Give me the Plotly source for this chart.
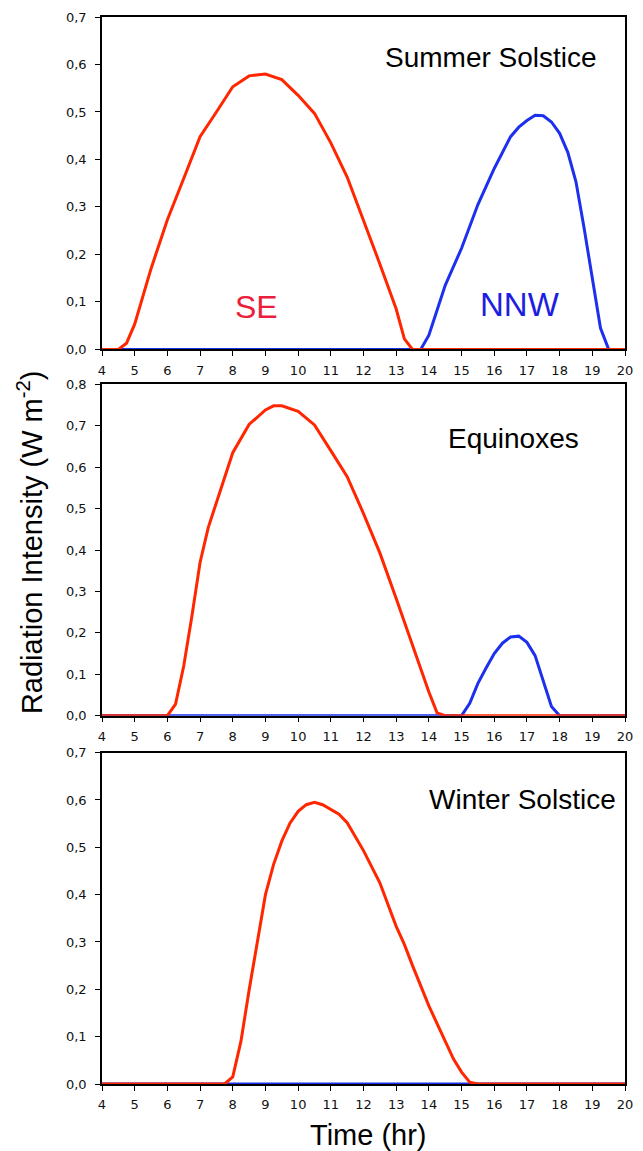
import plotly.graph_objects as go

# ---------------- data ----------------
x_ticks = list(range(4, 21))

# Summer solstice
t_sum_se = [4, 4.5, 4.75, 5, 5.5, 6, 6.5, 7, 7.5, 8, 8.5, 9, 9.5, 10, 10.5, 11, 11.5, 12, 12.5, 13, 13.25, 13.5, 20]
se_sum = [0, 0, 0.013, 0.053, 0.17, 0.273, 0.36, 0.448, 0.50, 0.553, 0.576, 0.58, 0.568, 0.535, 0.497, 0.435,
          0.363, 0.272, 0.18, 0.085, 0.022, 0, 0]
t_sum_nnw = [4, 13.75, 14, 14.5, 15, 15.5, 16, 16.5, 16.75, 17, 17.25, 17.5, 17.75, 18, 18.25, 18.5, 18.75, 19,
             19.25, 19.5, 20]
nnw_sum = [0, 0, 0.03, 0.135, 0.213, 0.305, 0.381, 0.448, 0.468, 0.482, 0.493, 0.492, 0.479, 0.455, 0.415, 0.353,
           0.255, 0.15, 0.045, 0, 0]

# Equinoxes
t_eq_se = [4, 6, 6.25, 6.5, 6.75, 7, 7.25, 7.5, 8, 8.5, 9, 9.25, 9.5, 10, 10.5, 11, 11.5, 12, 12.5, 13, 13.5, 14,
           14.25, 14.5, 20]
se_eq = [0, 0, 0.028, 0.12, 0.24, 0.37, 0.454, 0.514, 0.635, 0.703, 0.738, 0.748, 0.748, 0.735, 0.702, 0.64, 0.577,
         0.488, 0.393, 0.283, 0.17, 0.057, 0.007, 0, 0]
t_eq_nnw = [4, 15, 15.25, 15.5, 15.75, 16, 16.25, 16.5, 16.75, 17, 17.25, 17.5, 17.75, 18, 20]
nnw_eq = [0, 0, 0.03, 0.078, 0.115, 0.15, 0.175, 0.19, 0.192, 0.177, 0.145, 0.085, 0.022, 0, 0]

# Winter solstice
t_win_se = [4, 7.75, 8, 8.25, 8.5, 8.75, 9, 9.25, 9.5, 9.75, 10, 10.25, 10.5, 10.75, 11, 11.25, 11.5, 12, 12.5, 13,
            13.25, 13.5, 14, 14.5, 14.75, 15, 15.25, 15.5, 20]
se_win = [0, 0, 0.015, 0.09, 0.198, 0.3, 0.4, 0.464, 0.513, 0.551, 0.576, 0.59, 0.595, 0.59, 0.58, 0.57, 0.552,
          0.493, 0.425, 0.333, 0.295, 0.25, 0.165, 0.088, 0.053, 0.025, 0.004, 0, 0]
t_win_nnw = [4, 20]
nnw_win = [0, 0]

y_ticks_07 = [0, 0.1, 0.2, 0.3, 0.4, 0.5, 0.6, 0.7]
y_text_07 = ["0,0", "0,1", "0,2", "0,3", "0,4", "0,5", "0,6", "0,7"]
y_ticks_08 = [0, 0.1, 0.2, 0.3, 0.4, 0.5, 0.6, 0.7, 0.8]
y_text_08 = ["0,0", "0,1", "0,2", "0,3", "0,4", "0,5", "0,6", "0,7", "0,8"]

panel_titles = ["Summer Solstice", "Equinoxes", "Winter Solstice"]

# ---------------- styles ----------------
RED = "rgb(255,38,0)"
BLUE = "rgb(28,48,238)"
LW = 3

fig = go.Figure()

panels = [
    (t_sum_se, se_sum, t_sum_nnw, nnw_sum),
    (t_eq_se, se_eq, t_eq_nnw, nnw_eq),
    (t_win_se, se_win, t_win_nnw, nnw_win),
]
for i, (tse, yse, tnn, ynn) in enumerate(panels):
    suffix = "" if i == 0 else str(i + 1)
    fig.add_trace(go.Scatter(x=tnn, y=ynn, mode="lines", line=dict(color=BLUE, width=LW),
                             xaxis="x" + suffix, yaxis="y" + suffix, showlegend=False))
    fig.add_trace(go.Scatter(x=tse, y=yse, mode="lines", line=dict(color=RED, width=LW),
                             xaxis="x" + suffix, yaxis="y" + suffix, showlegend=False))

H = 1151
TOP = 15
BOT = 67
ph = H - TOP - BOT


def pdom(top_px, bot_px):
    return [(H - BOT - bot_px) / ph, (H - BOT - top_px) / ph]


doms = [pdom(15, 348), pdom(383, 715), pdom(752, 1084)]
yr = [0.7, 0.8, 0.7]

tickfont = dict(family="DejaVu Sans", size=13, color="#111111")
axis_common = dict(showline=True, linecolor="black", linewidth=1.5, mirror=True, ticks="outside",
                   ticklen=5, tickwidth=1.2, tickcolor="black", showgrid=False, zeroline=False,
                   tickfont=tickfont)

layout = dict(
    width=643, height=1151,
    margin=dict(l=102, r=10, t=TOP, b=BOT),
    plot_bgcolor="white", paper_bgcolor="white",
    showlegend=False,
)
for i in range(3):
    suffix = "" if i == 0 else str(i + 1)
    layout["xaxis" + suffix] = dict(axis_common, range=[4, 20], tickvals=x_ticks, ticklabelstandoff=3,
                                    anchor="y" + suffix, domain=[0, 1])
    tv = y_ticks_08 if i == 1 else y_ticks_07
    tt = y_text_08 if i == 1 else y_text_07
    layout["yaxis" + suffix] = dict(axis_common, range=[0, yr[i]], tickvals=tv, ticktext=tt,
                                    ticklabelstandoff=6, anchor="x" + suffix, domain=doms[i])
fig.update_layout(**layout)

title_font = dict(family="Liberation Sans", size=28, color="black")
ann = [
    dict(text=panel_titles[0], x=15.9, y=0.614, xref="x", yref="y", showarrow=False, font=title_font,
         xanchor="center", yanchor="middle"),
    dict(text=panel_titles[1], x=16.59, y=0.67, xref="x2", yref="y2", showarrow=False, font=title_font,
         xanchor="center", yanchor="middle"),
    dict(text=panel_titles[2], x=16.86, y=0.60, xref="x3", yref="y3", showarrow=False, font=title_font,
         xanchor="center", yanchor="middle"),
    dict(text="SE", x=8.73, y=0.09, xref="x", yref="y", showarrow=False, xanchor="center", yanchor="middle",
         font=dict(family="Liberation Sans", size=32, color="rgb(235,30,60)")),
    dict(text="NNW", x=16.8, y=0.095, xref="x", yref="y", showarrow=False, xanchor="center", yanchor="middle",
         font=dict(family="Liberation Sans", size=33, color="rgb(30,30,225)")),
    dict(text="Radiation Intensity (W m<sup>-2</sup>)", x=(29 - 102) / 531, y=(1084 - 541) / ph,
         xref="paper", yref="paper", showarrow=False, textangle=-90, xanchor="center", yanchor="middle",
         font=dict(family="Liberation Sans", size=29, color="black")),
    dict(text="Time (hr)", x=(373 - 102) / 531, y=(1084 - 1135) / ph, xref="paper", yref="paper",
         showarrow=False, xanchor="center", yanchor="middle",
         font=dict(family="Liberation Sans", size=29, color="black")),
]
fig.update_layout(annotations=ann)

fig.write_html("out.html")
